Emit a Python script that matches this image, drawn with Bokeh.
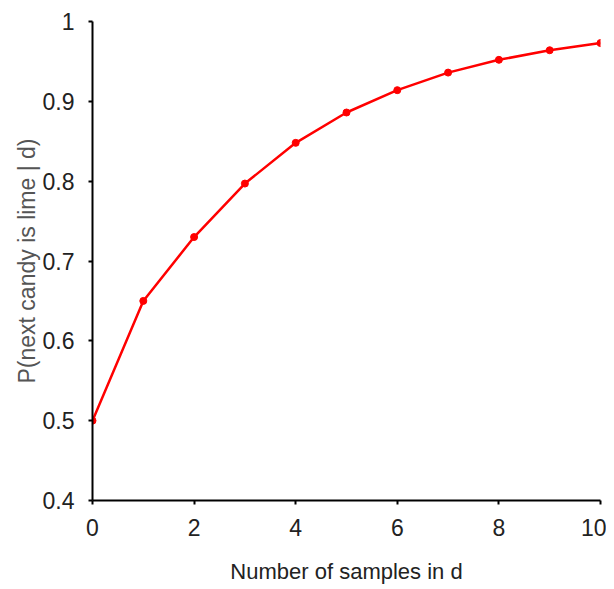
from bokeh.plotting import figure
from bokeh.models import FixedTicker, CustomJSTickFormatter, Range1d
from bokeh.embed import file_html
from bokeh.resources import INLINE

# data
samples = [0, 1, 2, 3, 4, 5, 6, 7, 8, 9, 10]
p_lime = [0.5, 0.65, 0.730, 0.797, 0.848, 0.886, 0.914, 0.936, 0.952, 0.964, 0.973]
x_ticks = [0, 2, 4, 6, 8, 10]
y_ticks = [0.4, 0.5, 0.6, 0.7, 0.8, 0.9, 1.0]
x_title = "Number of samples in d"
y_title = "P(next candy is lime | d)"

FONT = "'Liberation Sans', Arial, sans-serif"

p = figure(width=606, height=589, output_backend="svg", toolbar_location=None,
           x_range=Range1d(0, 10), y_range=Range1d(0.4, 1.0),
           min_border_left=92, min_border_right=6, min_border_top=21, min_border_bottom=89)
p.outline_line_color = None
p.grid.visible = False
p.background_fill_color = "white"
p.border_fill_color = "white"

p.line(samples, p_lime, line_color="#ff0000", line_width=2.5)
p.scatter(samples, p_lime, marker="circle", size=7, fill_color="#ff0000", line_color="#ff0000")

for ax in (p.xaxis[0], p.yaxis[0]):
    ax.axis_line_color = "black"
    ax.axis_line_width = 2
    ax.major_tick_line_color = "black"
    ax.major_tick_line_width = 2
    ax.major_tick_out = 4
    ax.major_tick_in = 0
    ax.minor_tick_line_color = None
    ax.major_label_text_font = FONT
    ax.major_label_text_font_size = "23px"
    ax.major_label_text_color = "#222222"
    ax.axis_label_text_font = FONT
    ax.axis_label_text_font_style = "normal"

p.xaxis.ticker = FixedTicker(ticks=x_ticks)
p.yaxis.ticker = FixedTicker(ticks=y_ticks)
p.yaxis.formatter = CustomJSTickFormatter(code="return tick >= 0.999 ? '1' : tick.toFixed(1);")
p.xaxis.major_label_standoff = 14
p.yaxis.major_label_standoff = 14

p.xaxis.axis_label = x_title
p.xaxis.axis_label_text_font_size = "22px"
p.xaxis.axis_label_text_color = "#222222"
p.xaxis.axis_label_standoff = 20

p.yaxis.axis_label = y_title
p.yaxis.axis_label_text_font_size = "23px"
p.yaxis.axis_label_text_color = "#555555"
p.yaxis.axis_label_standoff = 0

open("out.html", "w").write(file_html(p, INLINE))
